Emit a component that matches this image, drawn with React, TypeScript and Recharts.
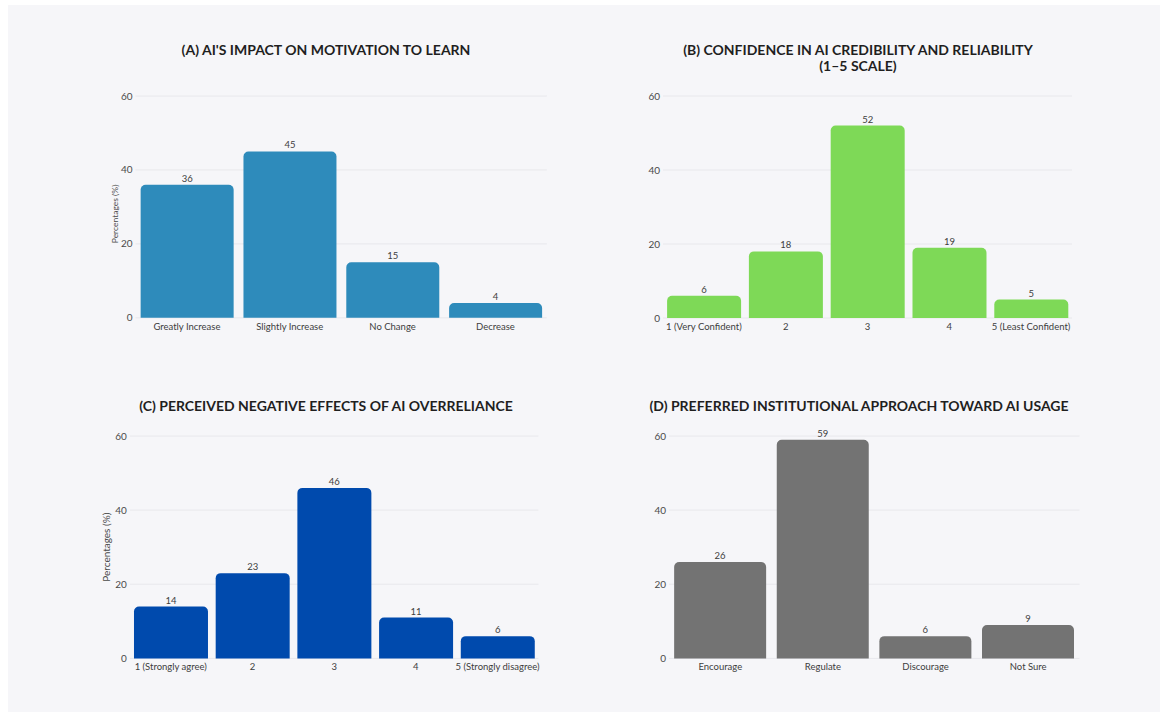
import { BarChart, Bar, XAxis, YAxis, CartesianGrid, LabelList, Label } from 'recharts';

const motivationLabels = ['Greatly Increase', 'Slightly Increase', 'No Change', 'Decrease'];
const motivationValues = [36, 45, 15, 4];

const confidenceLabels = ['1 (Very Confident)', '2', '3', '4', '5 (Least Confident)'];
const confidenceValues = [6, 18, 52, 19, 5];

const overrelianceLabels = ['1 (Strongly agree)', '2', '3', '4', '5 (Strongly disagree)'];
const overrelianceValues = [14, 23, 46, 11, 6];

const approachLabels = ['Encourage', 'Regulate', 'Discourage', 'Not Sure'];
const approachValues = [26, 59, 6, 9];

const yTicks = [0, 20, 40, 60];

const FONT = 'Lato, "Noto Sans", sans-serif';
const TOP_PAD = 10;
const X_AXIS_H = 22;
const RIGHT_PAD = 16;

interface AxisTitle {
  x: number; // from chart left
  shift: number; // vertical shift of centre
  size: number;
}

interface PanelProps {
  title: string[];
  titleX: number;
  titleY: number;
  labels: string[];
  values: number[];
  color: string;
  plotLeft: number;
  plotTop: number;
  plotWidth: number;
  plotHeight: number;
  axisWidth: number;
  axisTitle?: AxisTitle;
}

function Panel({
  title,
  titleX,
  titleY,
  labels,
  values,
  color,
  plotLeft,
  plotTop,
  plotWidth,
  plotHeight,
  axisWidth,
  axisTitle,
}: PanelProps) {
  const data = labels.map((name, i) => ({ name, value: values[i] }));
  const left = plotLeft - axisWidth;
  const top = plotTop - TOP_PAD;
  const width = axisWidth + plotWidth + RIGHT_PAD;
  const height = TOP_PAD + plotHeight + X_AXIS_H;

  return (
    <>
      <div
        style={{
          position: 'absolute',
          left: titleX - 250,
          top: titleY,
          width: 500,
          textAlign: 'center',
          fontFamily: FONT,
          fontWeight: 700,
          fontSize: 14,
          lineHeight: '16px',
          color: '#1f1f1f',
        }}
      >
        {title.map((line) => (
          <div key={line}>{line}</div>
        ))}
      </div>
      <div style={{ position: 'absolute', left, top }}>
        <BarChart
          width={width}
          height={height}
          data={data}
          margin={{ top: TOP_PAD, right: RIGHT_PAD, bottom: 0, left: 0 }}
          barCategoryGap="5%"
        >
          <CartesianGrid vertical={false} stroke="#e8e8ec" />
          <XAxis
            dataKey="name"
            height={X_AXIS_H}
            interval={0}
            tickLine={false}
            axisLine={false}
            tickSize={0}
            tickMargin={5}
            tick={{ fontSize: 9.5, fill: '#3d3d3d', fontFamily: FONT }}
          />
          <YAxis
            width={axisWidth}
            domain={[0, 60]}
            ticks={yTicks}
            tickLine={false}
            axisLine={false}
            tickSize={0}
            tickMargin={3}
            tick={{ fontSize: 10, fill: '#4a4a4a', fontFamily: FONT }}
          >
            {axisTitle && (
              <Label
                content={({ viewBox }: any) => {
                  const cx = viewBox.x + axisTitle.x;
                  const cy = viewBox.y + viewBox.height / 2 + axisTitle.shift;
                  return (
                    <text
                      x={cx}
                      y={cy}
                      transform={`rotate(-90 ${cx} ${cy})`}
                      textAnchor="middle"
                      dominantBaseline="central"
                      fontSize={axisTitle.size}
                      fill="#4a4a4a"
                      fontFamily={FONT}
                    >
                      Percentages (%)
                    </text>
                  );
                }}
              />
            )}
          </YAxis>
          <Bar dataKey="value" fill={color} radius={[5, 5, 0, 0]} isAnimationActive={false}>
            <LabelList
              dataKey="value"
              position="top"
              offset={3}
              fontSize={9.5}
              fill="#3d3d3d"
              fontFamily={FONT}
            />
          </Bar>
        </BarChart>
      </div>
    </>
  );
}

export default function App() {
  return (
    <div style={{ position: 'absolute', left: 0, top: 0, width: 1165, height: 717, background: '#ffffff' }}>
      <div
        style={{ position: 'absolute', left: 8, top: 5, width: 1152, height: 707, background: '#f6f6f9' }}
      />
      <Panel
        title={["(A) AI'S IMPACT ON MOTIVATION TO LEARN"]}
        titleX={326}
        titleY={42}
        labels={motivationLabels}
        values={motivationValues}
        color="#2e8bbb"
        plotLeft={135.5}
        plotTop={95.7}
        plotWidth={411.3}
        plotHeight={221.8}
        axisWidth={35.5}
        axisTitle={{ x: 15, shift: 7, size: 8.5 }}
      />
      <Panel
        title={['(B) CONFIDENCE IN AI CREDIBILITY AND RELIABILITY', '(1–5 SCALE)']}
        titleX={858}
        titleY={42}
        labels={confidenceLabels}
        values={confidenceValues}
        color="#7ed957"
        plotLeft={662.6}
        plotTop={95.7}
        plotWidth={409}
        plotHeight={222}
        axisWidth={24}
      />
      <Panel
        title={['(C) PERCEIVED NEGATIVE EFFECTS OF AI OVERRELIANCE']}
        titleX={326}
        titleY={398}
        labels={overrelianceLabels}
        values={overrelianceValues}
        color="#004aad"
        plotLeft={129.9}
        plotTop={436.3}
        plotWidth={408.5}
        plotHeight={222.4}
        axisWidth={39.9}
        axisTitle={{ x: 16, shift: 0, size: 10 }}
      />
      <Panel
        title={['(D) PREFERRED INSTITUTIONAL APPROACH TOWARD AI USAGE']}
        titleX={859}
        titleY={398}
        labels={approachLabels}
        values={approachValues}
        color="#737373"
        plotLeft={668.9}
        plotTop={436.3}
        plotWidth={410.5}
        plotHeight={222.4}
        axisWidth={24}
      />
    </div>
  );
}
